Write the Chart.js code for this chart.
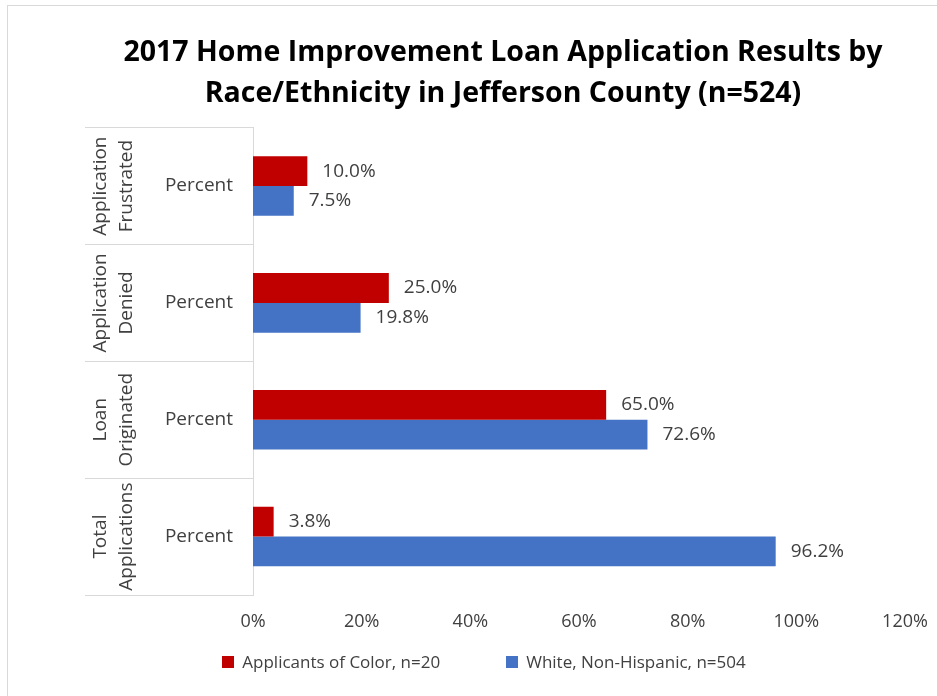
<!DOCTYPE html>
<html>
<head>
<meta charset="utf-8">
<script src="https://cdn.jsdelivr.net/npm/chart.js@4"></script>
<style>
  html, body { margin: 0; padding: 0; background: #fff; }
  #wrap { position: relative; width: 937px; height: 696px; overflow: hidden; }
  #frame { position: absolute; left: 7px; top: 5px; right: -5px; bottom: -5px; border-left: 1px solid #d9d9d9; border-top: 1px solid #d9d9d9; }
  canvas { position: absolute; left: 0; top: 0; }
  #legend { position: absolute; left: 0; width: 968px; top: 650px; display: flex; justify-content: center; gap: 66px;
            font: 17px 'Open Sans', sans-serif; color: #404040; }
  #legend span.item { display: flex; align-items: center; }
  #legend i { display: inline-block; width: 12px; height: 12px; margin-right: 8px; }
</style>
</head>
<body>
<div id="wrap">
  <div id="frame"></div>
  <canvas id="loanChart" width="937" height="696"></canvas>
  <div id="legend"></div>
</div>
<script>
const groups = [
  ["Application", "Frustrated"],
  ["Application", "Denied"],
  ["Loan", "Originated"],
  ["Total", "Applications"]
];
const rowLabels = ["Percent", "Percent", "Percent", "Percent"];
const colorApplicants = [10.0, 25.0, 65.0, 3.8];
const whiteApplicants = [7.5, 19.8, 72.6, 96.2];
const seriesNames = ["Applicants of Color, n=20", "White, Non-Hispanic, n=504"];
const seriesColors = ["#c00000", "#4472c4"];
const xTicks = [0, 20, 40, 60, 80, 100, 120];

const FONT = "'Open Sans', sans-serif";
const TEXT = "#404040";

// value labels at the end of each bar
const barLabels = {
  id: "barLabels",
  afterDatasetsDraw(chart) {
    const ctx = chart.ctx;
    ctx.save();
    ctx.font = "19px " + FONT;
    ctx.fillStyle = TEXT;
    ctx.textBaseline = "middle";
    ctx.textAlign = "left";
    chart.data.datasets.forEach((ds, i) => {
      chart.getDatasetMeta(i).data.forEach((bar, j) => {
        ctx.fillText(ds.data[j].toFixed(1) + "%", bar.x + 15, bar.y);
      });
    });
    ctx.restore();
  }
};

// outer category labels, rotated
const groupLabels = {
  id: "groupLabels",
  afterDraw(chart) {
    const ctx = chart.ctx;
    const y = chart.scales.y;
    ctx.save();
    ctx.font = "19px " + FONT;
    ctx.fillStyle = TEXT;
    ctx.textAlign = "center";
    ctx.textBaseline = "middle";
    groups.forEach((lines, i) => {
      const cy = y.getPixelForValue(i);
      lines.forEach((line, k) => {
        ctx.save();
        ctx.translate(101 + k * 26, cy);
        ctx.rotate(-Math.PI / 2);
        ctx.fillText(line, 0, 0);
        ctx.restore();
      });
    });
    ctx.restore();
  }
};

const chart = new Chart(document.getElementById("loanChart"), {
  type: "bar",
  data: {
    labels: rowLabels,
    datasets: [
      {
        label: seriesNames[0],
        data: colorApplicants,
        backgroundColor: seriesColors[0],
        categoryPercentage: 0.51,
        barPercentage: 1
      },
      {
        label: seriesNames[1],
        data: whiteApplicants,
        backgroundColor: seriesColors[1],
        categoryPercentage: 0.51,
        barPercentage: 1
      }
    ]
  },
  options: {
    indexAxis: "y",
    responsive: false,
    animation: false,
    layout: {
      padding: { left: 101, right: 32, top: 0, bottom: 61 }
    },
    plugins: {
      title: {
        display: true,
        text: [
          "2017 Home Improvement Loan Application Results by",
          "Race/Ethnicity in Jefferson County (n=524)"
        ],
        color: "#000",
        font: { family: FONT, size: 28.5, weight: "bold", lineHeight: 1.45 },
        padding: { top: 32, bottom: 13 }
      },
      legend: { display: false },
      tooltip: { enabled: false }
    },
    scales: {
      x: {
        min: 0,
        max: 120,
        afterBuildTicks: scale => {
          scale.ticks = xTicks.map(v => ({ value: v }));
        },
        afterFit: scale => {
          scale.height = 40;
          // let the end labels overhang into the page margin
          scale.paddingLeft = 0;
          scale.paddingRight = 0;
        },
        ticks: {
          color: TEXT,
          font: { family: FONT, size: 18 },
          padding: 16,
          callback: v => v + "%"
        },
        grid: { display: false, drawTicks: false },
        border: { display: false }
      },
      y: {
        afterFit: scale => { scale.width = 152; },
        ticks: {
          color: TEXT,
          font: { family: FONT, size: 19 },
          padding: -148
        },
        grid: {
          offset: true,
          drawOnChartArea: false,
          drawTicks: true,
          tickLength: 168,
          color: "#d9d9d9"
        },
        border: { display: true, color: "#d9d9d9" }
      }
    }
  },
  plugins: [barLabels, groupLabels]
});

// legend below the chart, built from the datasets
document.getElementById("legend").innerHTML =
  chart.data.datasets
  .map(ds =>
    '<span class="item"><i style="background:' + ds.backgroundColor + '"></i>' + ds.label + '</span>'
  )
  .join("");
</script>
</body>
</html>
